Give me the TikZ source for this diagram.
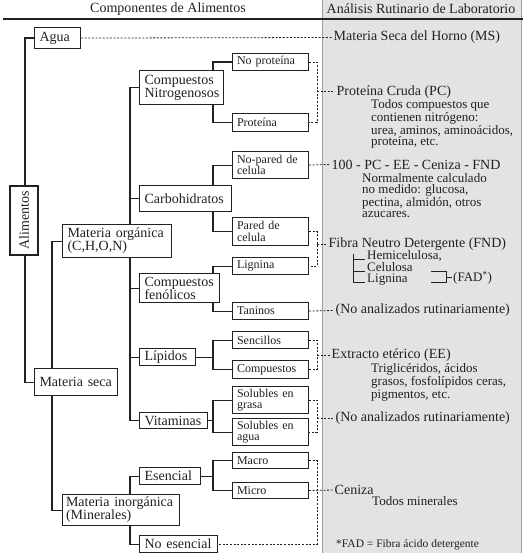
\documentclass[tikz,border=0pt]{standalone}
\usepackage{fontspec}
\setmainfont{Liberation Serif}
\usetikzlibrary{calc}
\pgfdeclarelayer{bg}\pgfdeclarelayer{lines}\pgfsetlayers{bg,lines,main}
\definecolor{panelc}{gray}{0.89}
\definecolor{ink}{gray}{0.13}
\tikzset{
 bigf/.style={font=\fontsize{14}{13}\selectfont},
 smallf/.style={font=\fontsize{12}{11.5}\selectfont},
 mainbox/.style={draw=ink, line width=1.1pt, fill=white, anchor=north west, align=left, inner xsep=5pt, inner ysep=0pt, bigf, text=ink, execute at begin node={\hyphenpenalty=10000\exhyphenpenalty=10000}},
 subbox/.style={mainbox, smallf, inner xsep=4.5pt, text width=67pt},
 link/.style={draw=ink, line width=1.1pt},
 blink/.style={draw=ink, line width=0.9pt},
 dlink/.style={draw=ink, line width=0.8pt, dash pattern=on 2pt off 1.6pt},
 rtext/.style={anchor=west, inner xsep=1.5pt, inner ysep=0pt, bigf, text=ink},
 rdesc/.style={anchor=north west, inner sep=0pt, align=left, font=\fontsize{13}{11.4}\selectfont, text=ink},
 rsub/.style={anchor=west, inner sep=0pt, font=\fontsize{13}{11.2}\selectfont, text=ink},
}
\begin{document}
\begin{tikzpicture}[x=1pt,y=-1pt]
\useasboundingbox (0,0) rectangle (523,559);
% panel
\begin{pgfonlayer}{bg}
\fill[panelc] (322,0) rectangle (521,553);
\draw[gray!75, line width=1pt] (322,0) -- (322,553);
\draw[gray!75, line width=1pt] (521,0) -- (521,553);
\end{pgfonlayer}
% headers
\node[bigf, text=ink] (h1) at (168,9) {Componentes de Alimentos};
\node[bigf, text=ink] (h2) at (421,9) {Análisis Rutinario de Laboratorio};
\draw[ink, line width=1.2pt] (3,19) -- (523,19);
% trunk coordinates
\coordinate (t1) at (25,0);
\coordinate (t2) at (52,0);
\coordinate (t3) at (130,0);
\coordinate (t4) at (213,0);
\coordinate (d1) at (317,0);
\coordinate (fa) at (431,0);
\coordinate (fb) at (446,0);
% main boxes
\node[mainbox, text width=36pt, minimum height=21pt] (agua) at (34,27) {Agua};
\node[mainbox, rotate=90, anchor=center, align=center, inner sep=0pt, minimum width=69pt, minimum height=28pt] (alim) at (24,220.5) {Alimentos};
\node[mainbox, text width=74pt, minimum height=34pt] (cn) at (139,70) {Compuestos\\Nitrogenosos};
\node[mainbox, text width=82pt, minimum height=26pt] (carb) at (139,185) {Carbohidratos};
\node[mainbox, text width=99pt, minimum height=33pt] (mo) at (62,224) {Materia orgánica\\(C,H,O,N)};
\node[mainbox, text width=70pt, minimum height=29pt] (cf) at (139,273) {Compuestos\\fenólicos};
\node[mainbox, text width=46pt, minimum height=17pt] (lip) at (139,348) {Lípidos};
\node[mainbox, text width=73pt, minimum height=27pt] (ms) at (34,368) {Materia seca};
\node[mainbox, text width=58pt, minimum height=16pt] (vit) at (139,412) {Vitaminas};
\node[mainbox, text width=51pt, minimum height=17pt] (es) at (139,467) {Esencial};
\node[mainbox, text width=110pt, inner xsep=3.5pt, minimum height=31pt] (mi) at (62,494) {Materia inorgánica\\(Minerales)};
\node[mainbox, text width=68pt, minimum height=17pt] (noes) at (139,535) {No esencial};
% sub boxes
\node[subbox, minimum height=17pt] (np) at (232,53) {No proteína};
\node[subbox, minimum height=18pt] (prot) at (232,113) {Proteína};
\node[subbox, minimum height=27pt] (npc) at (232,151) {No-pared de\\celula};
\node[subbox, minimum height=28pt] (pc) at (232,217) {Pared de\\celula};
\node[subbox, minimum height=17pt] (lig) at (232,257) {Lignina};
\node[subbox, minimum height=17pt] (tan) at (232,302) {Taninos};
\node[subbox, minimum height=17pt] (sen) at (232,331) {Sencillos};
\node[subbox, minimum height=18pt] (comp) at (232,360) {Compuestos};
\node[subbox, minimum height=27pt] (sg) at (232,386) {Solubles en\\grasa};
\node[subbox, minimum height=27pt] (sa) at (232,418) {Solubles en\\agua};
\node[subbox, minimum height=16pt] (mac) at (232,452) {Macro};
\node[subbox, minimum height=16pt] (mic) at (232,482) {Micro};
% right texts
\node[rtext] (msT) at (332,37.5) {Materia Seca del Horno (MS)};
\node[rtext] (pcT) at (335,91.75) {Proteína Cruda (PC)};
\node[rdesc] (pcD) at (371,99.5) {Todos compuestos que\\contienen nitrógeno:\\urea, aminos, aminoácidos,\\proteína, etc.};
\node[rtext] (npcT) at (330,164.5) {100 - PC - EE - Ceniza - FND};
\node[rdesc] (npcD) at (362,173) {Normalmente calculado\\no medido: glucosa,\\pectina, almidón, otros\\azucares.};
\node[rtext] (fndT) at (327,244) {Fibra Neutro Detergente (FND)};
\node[rsub] (hemi) at (367,255.5) {Hemicelulosa,};
\node[rsub] (celu) at (367,267.5) {Celulosa};
\node[rsub] (lign) at (367,279.5) {Lignina};
\node[rsub, inner xsep=1pt] (fadT) at (452,278) {(FAD\textsuperscript{*})};
\node[rtext] (tanT) at (334,310.5) {(No analizados rutinariamente)};
\node[rtext] (eeT) at (330,355) {Extracto etérico (EE)};
\node[rdesc] (eeD) at (371,363.5) {Triglicéridos, ácidos\\grasos, fosfolípidos ceras,\\pigmentos, etc.};
\node[rtext] (vitT) at (334,418) {(No analizados rutinariamente)};
\node[rtext] (cenT) at (333,490) {Ceniza};
\node[rsub] (cenD) at (372,501) {Todos minerales};
\node[anchor=west, inner sep=0pt, font=\fontsize{11.5}{12}\selectfont, text=ink] (fadN) at (336,545) {*FAD = Fibra ácido detergente};
% connectors
\begin{pgfonlayer}{lines}
\draw[link] (agua.west) -- (agua.west -| t1) -- (ms.west -| t1) -- (ms.west);
\draw[link] (mo.west) -- (mo.west -| t2) -- (mi.west -| t2) -- (mi.west);
\draw[link] (cn.west) -- (cn.west -| t3) -- (vit.west -| t3) -- (vit.west);
\draw[link] (carb.west -| t3) -- (carb.west);
\draw[link] (cf.west -| t3) -- (cf.west);
\draw[link] (lip.west -| t3) -- (lip.west);
\draw[link] (es.west) -- (es.west -| t3) -- (noes.west -| t3) -- (noes.west);
\draw[link] (np.west) -- (np.west -| t4) -- (prot.west -| t4) -- (prot.west);
\draw[link] (npc.west) -- (npc.west -| t4) -- (pc.west -| t4) -- (pc.west);
\draw[link] (lig.west) -- (lig.west -| t4) -- (tan.west -| t4) -- (tan.west);
\draw[link] (sen.west) -- (sen.west -| t4) -- (comp.west -| t4) -- (comp.west);
\draw[link] (lip.east) -- (lip.east -| t4);
\draw[link] (sg.west) -- (sg.west -| t4) -- (sa.west -| t4) -- (sa.west);
\draw[link] (vit.east) -- (vit.east -| t4);
\draw[link] (mac.west) -- (mac.west -| t4) -- (mic.west -| t4) -- (mic.west);
\draw[link] (es.east) -- (es.east -| t4);
% dashed
\draw[dlink] (agua.east) -- (msT.west);
\draw[dlink] (np.east) -- (np.east -| d1) -- (prot.east -| d1) -- (prot.east);
\draw[dlink] (d1 |- pcT.west) -- (pcT.west);
\draw[dlink] (npc.east) -- (npcT.west);
\draw[dlink] (pc.east) -- (pc.east -| d1) -- (lig.east -| d1) -- (lig.east);
\draw[dlink] (d1 |- fndT.west) -- (fndT.west);
\draw[dlink] (tan.east) -- (tanT.west);
\draw[dlink] (sen.east) -- (sen.east -| d1) -- (comp.east -| d1) -- (comp.east);
\draw[dlink] (d1 |- eeT.west) -- (eeT.west);
\draw[dlink] (sg.east) -- (sg.east -| d1) -- (sa.east -| d1) -- (sa.east);
\draw[dlink] (d1 |- vitT.west) -- (vitT.west);
\draw[dlink] (mac.east) -- (mac.east -| d1) -- (noes.east -| d1) -- (noes.east);
\draw[dlink] (mic.east) -- (cenT.west);
% FND brackets
\draw[blink] ($(hemi.base west)+(-14,-5)$) -- ($(lign.base west)+(-14,0)$) -- ($(lign.base west)+(-2,0)$);
\draw[blink] ($(hemi.base west)+(-14,0)$) -- ($(hemi.base west)+(-2,0)$);
\draw[blink] ($(celu.base west)+(-14,0)$) -- ($(celu.base west)+(-2,0)$);
\draw[blink] (celu.base -| fa) -- (celu.base -| fb) -- (lign.base -| fb) -- (lign.base -| fa);
\draw[blink] ($(celu.base -| fb)!0.5!(lign.base -| fb)$) -- ($(celu.base -| fadT.west)!0.5!(lign.base -| fadT.west)$);
\end{pgfonlayer}
\end{tikzpicture}
\end{document}
